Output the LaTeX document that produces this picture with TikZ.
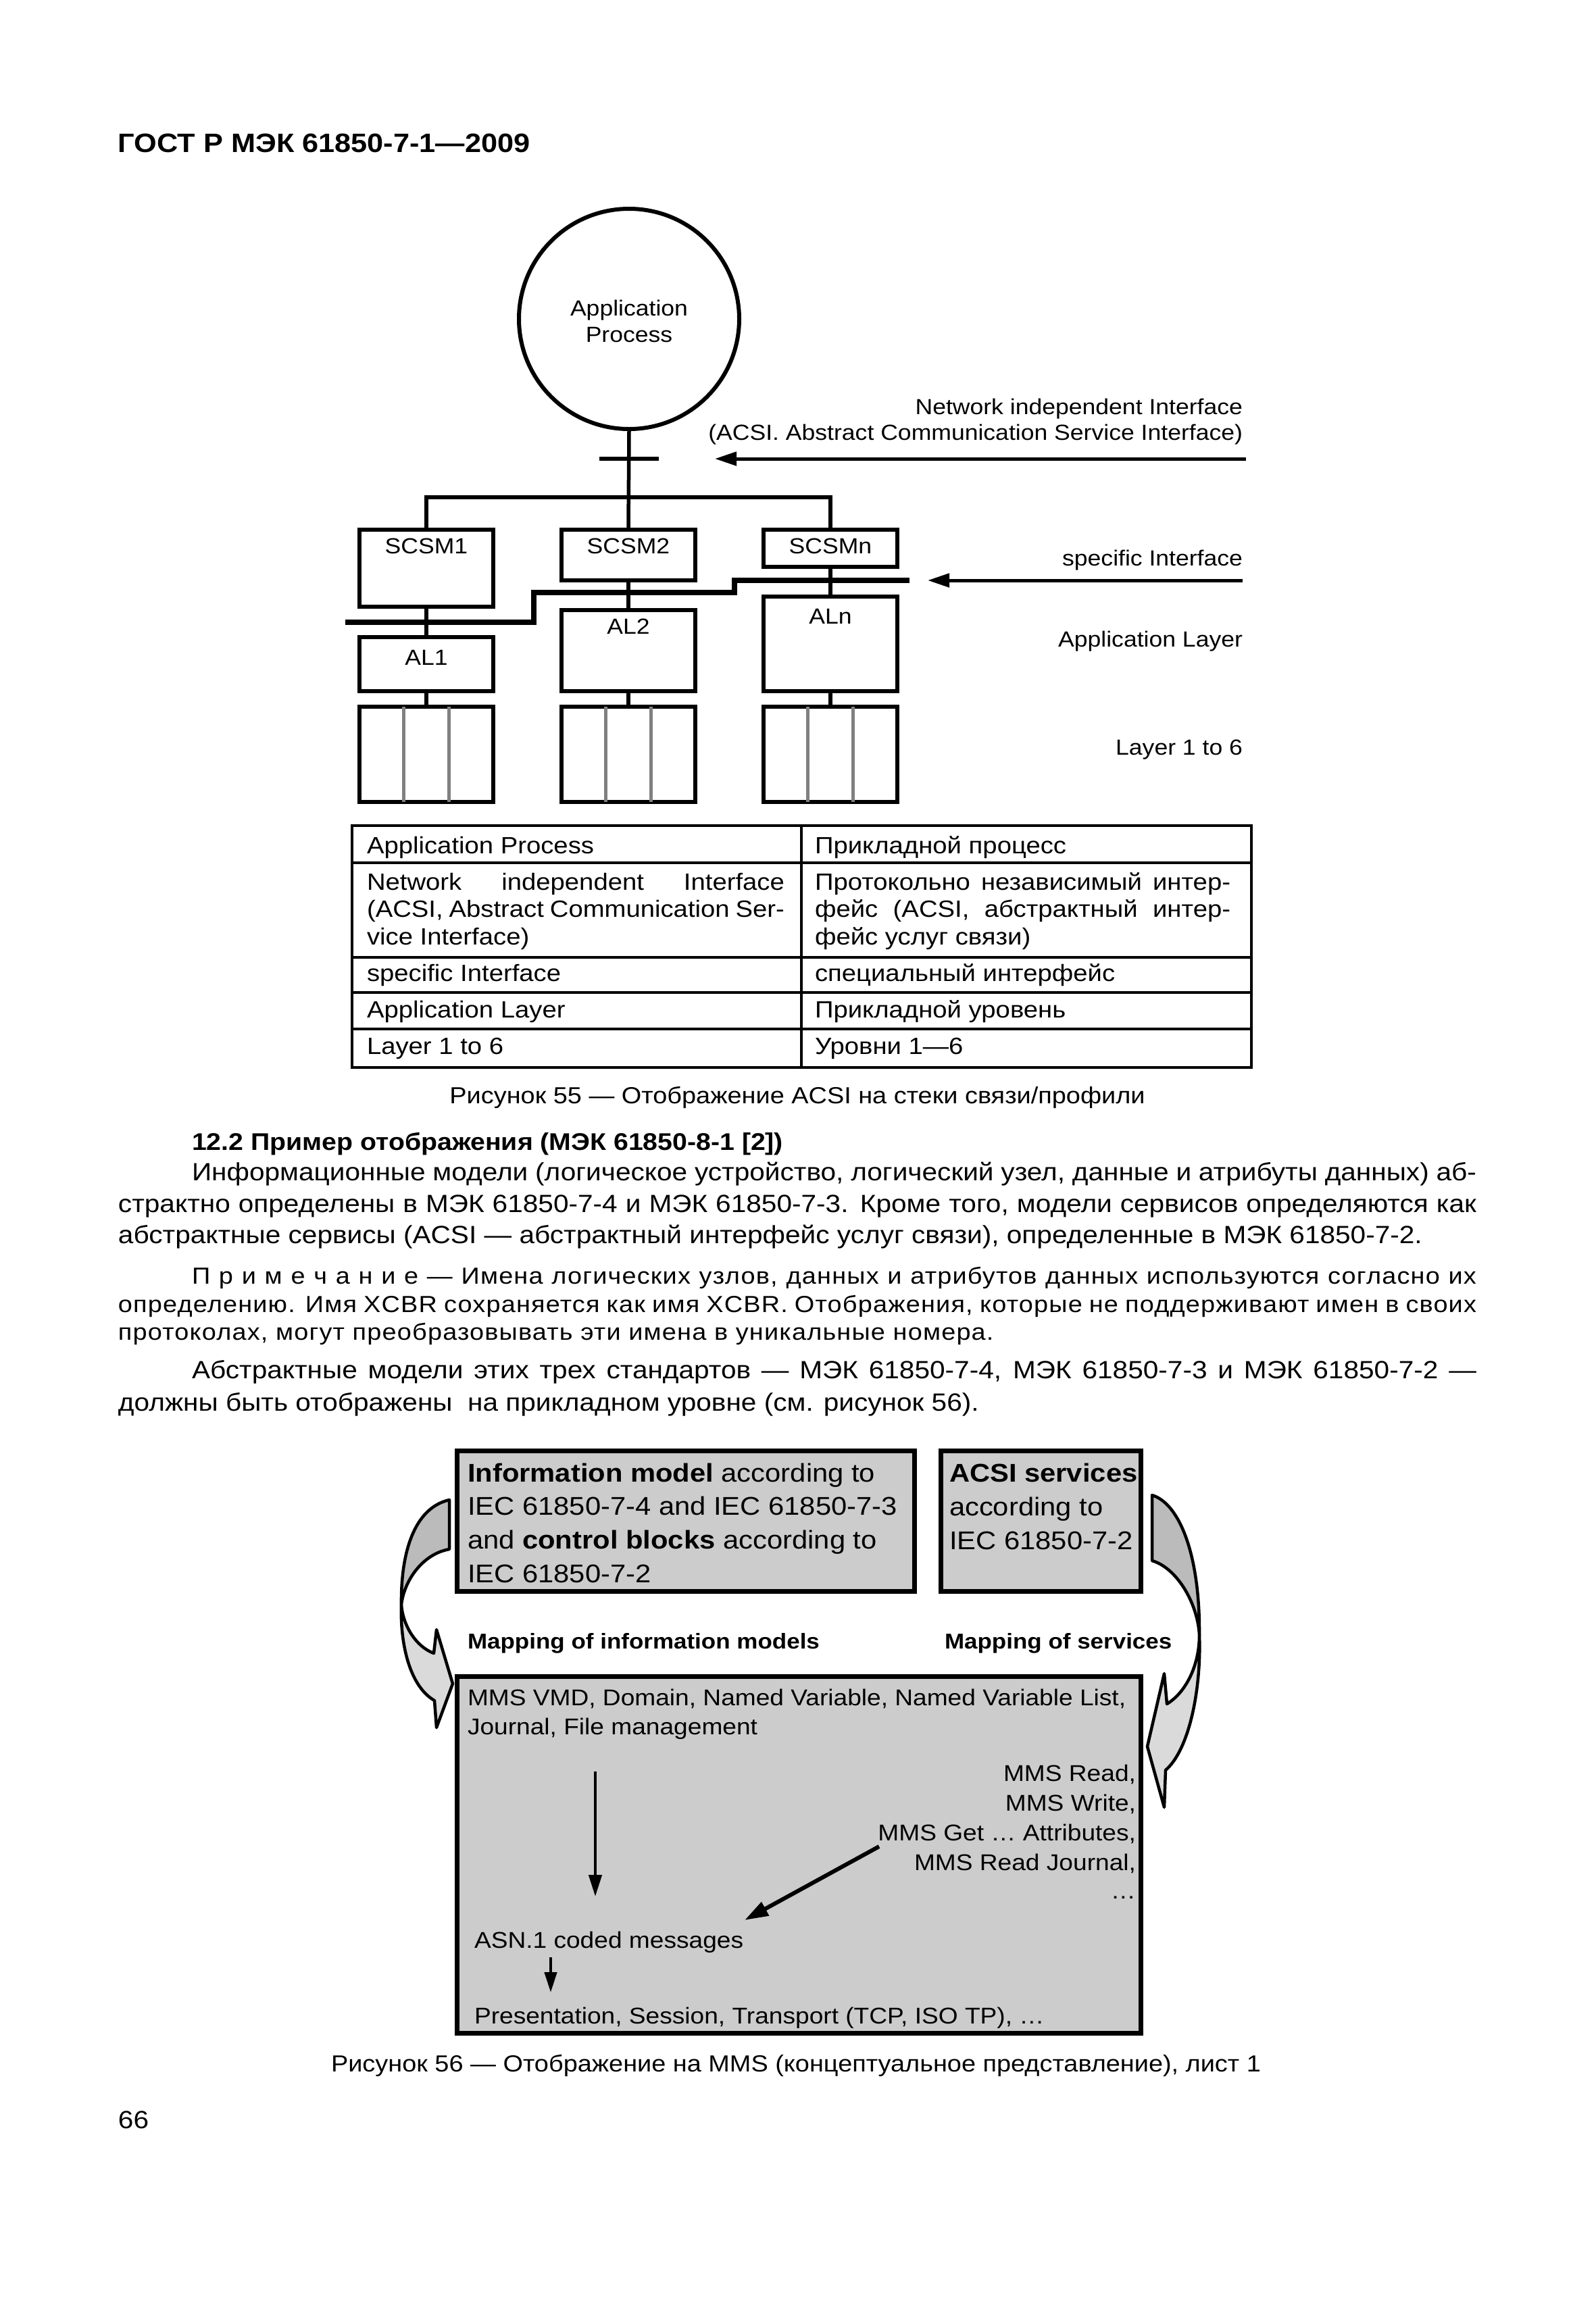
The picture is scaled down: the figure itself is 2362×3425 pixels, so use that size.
\documentclass[tikz,border=0pt]{standalone}
\usepackage{fontspec}
\setmainfont{Liberation Sans}[FakeStretch=1.1]
\usetikzlibrary{arrows.meta,calc}
\newcommand\myfs[1]{\fontsize{#1pt}{#1pt}\selectfont}
\definecolor{boxgray}{HTML}{CCCCCC}
\definecolor{darkband}{HTML}{BBBBBB}
\definecolor{lightband}{HTML}{DADADA}
\definecolor{stackgray}{HTML}{808080}
\begin{document}
\begin{tikzpicture}[x=0.1mm,y=-0.1mm,
  txl/.style={inner sep=0pt,outer sep=0pt,anchor=base west},
  txr/.style={inner sep=0pt,outer sep=0pt,anchor=base east},
  txc/.style={inner sep=0pt,outer sep=0pt,anchor=base},
  f55/.style={font=\myfs{9.2}},
  ftab/.style={font=\myfs{9.9}},
  fbody/.style={font=\myfs{10.5}},
  fnote/.style={font=\myfs{9.8}\addfontfeature{LetterSpace=3.4}},
  fcap/.style={font=\myfs{9.8}},
  fbig/.style={font=\myfs{10.8}},
  fmms/.style={font=\myfs{9.6}},
  fmap/.style={font=\bfseries\myfs{9.05}},
  box/.style={draw,line width=0.65mm,inner sep=0pt,minimum width=19.8mm},
  gbox/.style={draw,fill=boxgray,line width=0.7mm,inner sep=0pt},
  ln/.style={line width=0.55mm},
  arr/.style={line width=0.5mm,-{Triangle[length=3.2mm,width=2mm]}},
  band/.style={line width=0.45mm,line join=round},
]
\useasboundingbox (0,0) rectangle (2362,3425);
\fill[white] (0,0) rectangle (2362,3425);

% ---------- header ----------
\node[txl,font=\bfseries\myfs{11.2}] (hdr) at (175,225) {ГОСТ Р МЭК 61850-7-1—2009};

% ---------- figure 55 ----------
\node[circle,draw,line width=0.6mm,minimum size=32.6mm,inner sep=0pt] (ap) at (931,472) {};
\node[txc,f55] (apt1) at (931,467) {Application};
\node[txc,f55] (apt2) at (931,506) {Process};

\node[box,minimum height=11.4mm] (scsm1) at (631,841) {};
\node[box,minimum height=7.5mm]  (scsm2) at (930,821.5) {};
\node[box,minimum height=5.5mm]  (scsmn) at (1229,811.5) {};
\node[box,minimum height=8.0mm]  (al1) at (631,983) {};
\node[box,minimum height=12.0mm] (al2) at (930,963) {};
\node[box,minimum height=14.0mm] (aln) at (1229,953) {};
\node[box,minimum height=14.1mm] (stk1) at (631,1116.5) {};
\node[box,minimum height=14.1mm] (stk2) at (930,1116.5) {};
\node[box,minimum height=14.1mm] (stk3) at (1229,1116.5) {};

\foreach \n in {stk1,stk2,stk3}{
  \draw[line width=0.5mm,stackgray] ($(\n.north)+(-34,3)$) -- ($(\n.south)+(-34,-3)$);
  \draw[line width=0.5mm,stackgray] ($(\n.north)+(33,3)$) -- ($(\n.south)+(33,-3)$);
}

\node[txc,f55] (t1) at (631,819) {SCSM1};
\node[txc,f55] (t2) at (930,819) {SCSM2};
\node[txc,f55] (t3) at (1229,819) {SCSMn};
\node[txc,f55] (t4) at (631,984) {AL1};
\node[txc,f55] (t5) at (930,938) {AL2};
\node[txc,f55] (t6) at (1229,923) {ALn};

\coordinate (bus) at (930,736);
\draw[ln] (ap.south) -- (scsm2.north);
\draw[ln] (scsm1.north) |- (bus) -| (scsmn.north);
\draw[ln] (scsm1.south) -- (al1.north);
\draw[ln] (scsm2.south) -- (al2.north);
\draw[ln] (scsmn.south) -- (aln.north);
\draw[ln] (al1.south) -- (stk1.north);
\draw[ln] (al2.south) -- (stk2.north);
\draw[ln] (aln.south) -- (stk3.north);

\coordinate (tkL) at (887,679);
\coordinate (tkR) at (975,679);
\draw[line width=0.6mm] (tkL) -- (tkR);

\coordinate (siA) at (511,921);
\coordinate (siB) at (1346,859);
\draw[line width=0.8mm] (siA) -- (790,921) -- (790,877) -- (1087,877) -- (1087,859) -- (siB);

\coordinate (a1s) at (1844,679);
\coordinate (a1t) at (1058,679);
\draw[arr] (a1s) -- (a1t);
\coordinate (a2s) at (1839,859);
\coordinate (a2t) at (1373,859);
\draw[arr] (a2s) -- (a2t);

\node[txr,f55] (lni1) at (1839,613) {Network independent Interface};
\node[txr,f55] (lni2) at (1839,651) {(ACSI. Abstract Communication Service Interface)};
\node[txr,f55] (lsi) at (1839,837) {specific Interface};
\node[txr,f55] (lal) at (1839,957) {Application Layer};
\node[txr,f55] (ll16) at (1839,1117) {Layer 1 to 6};

% ---------- legend table ----------
\draw[line width=0.4mm] (521,1222) rectangle (1852,1580);
\foreach \yy in {1277,1417,1469,1523} \draw[line width=0.4mm] (521,\yy) -- (1852,\yy);
\draw[line width=0.4mm] (1186,1222) -- (1186,1580);

\node[txl,ftab] (tl1) at (543,1263) {Application Process};
\node[txl,ftab] (tl2) at (543,1317) {\makebox[61.8mm][s]{Network independent Interface}};
\node[txl,ftab] (tl3) at (543,1357) {\makebox[61.8mm][s]{(ACSI, Abstract Communication Ser-}};
\node[txl,ftab] (tl4) at (543,1398) {vice Interface)};
\node[txl,ftab] (tl5) at (543,1452) {specific Interface};
\node[txl,ftab] (tl6) at (543,1506) {Application Layer};
\node[txl,ftab] (tl7) at (543,1560) {Layer 1 to 6};
\node[txl,ftab] (tr1) at (1206,1263) {Прикладной процесс};
\node[txl,ftab] (tr2) at (1206,1317) {\makebox[61.5mm][s]{Протокольно независимый интер-}};
\node[txl,ftab] (tr3) at (1206,1357) {\makebox[61.5mm][s]{фейс (ACSI, абстрактный интер-}};
\node[txl,ftab] (tr4) at (1206,1398) {фейс услуг связи)};
\node[txl,ftab] (tr5) at (1206,1452) {специальный интерфейс};
\node[txl,ftab] (tr6) at (1206,1506) {Прикладной уровень};
\node[txl,ftab] (tr7) at (1206,1560) {Уровни 1—6};

\node[txc,fcap] (cap55) at (1180,1633) {Рисунок 55 — Отображение ACSI на стеки связи/профили};

% ---------- body text ----------
\node[txl,font=\bfseries\myfs{10.15}] (h122) at (284,1702) {12.2 Пример отображения (МЭК 61850-8-1 [2])};
\node[txl,fbody] (b1) at (284,1747) {\makebox[190.1mm][s]{Информационные модели (логическое устройство, логический узел, данные и атрибуты данных) аб-}};
\node[txl,fbody] (b2) at (175,1794) {\makebox[201mm][s]{страктно определены в МЭК 61850-7-4 и МЭК 61850-7-3. Кроме того, модели сервисов определяются как}};
\node[txl,fbody] (b3) at (175,1840) {абстрактные сервисы (ACSI — абстрактный интерфейс услуг связи), определенные в МЭК 61850-7-2.};

\node[txl,fnote] (n1) at (284,1900) {\makebox[190.1mm][s]{П р и м е ч а н и е — Имена логических узлов, данных и атрибутов данных используются согласно их}};
\node[txl,fnote] (n2) at (175,1942) {\makebox[201mm][s]{определению. Имя XCBR сохраняется как имя XCBR. Отображения, которые не поддерживают имен в своих}};
\node[txl,fnote] (n3) at (175,1983) {протоколах, могут преобразовывать эти имена в уникальные номера.};

\node[txl,fbody] (a1) at (284,2040) {\makebox[190.1mm][s]{Абстрактные модели этих трех стандартов — МЭК 61850-7-4, МЭК 61850-7-3 и МЭК 61850-7-2 —}};
\node[txl,fbody] (a2) at (175,2088) {должны быть отображены\ \ на прикладном уровне (см. рисунок 56).};

% ---------- figure 56 ----------
\filldraw[band,fill=darkband] (665,2220) .. controls (612,2232) and (593,2300) .. (594,2375)
   .. controls (598,2340) and (625,2300) .. (665,2293) -- cycle;
\filldraw[band,fill=lightband] (594,2375) .. controls (596,2405) and (615,2437) .. (642,2447)
   -- (646,2412) -- (670,2492) -- (646,2557) -- (643,2517)
   .. controls (605,2495) and (592,2430) .. (594,2375) -- cycle;
\filldraw[band,fill=darkband] (1705,2213) .. controls (1745,2225) and (1776,2300) .. (1775,2420)
   .. controls (1772,2370) and (1740,2320) .. (1705,2310) -- cycle;
\filldraw[band,fill=lightband] (1775,2420) .. controls (1775,2465) and (1755,2505) .. (1727,2522)
   -- (1723,2477) -- (1698,2585) -- (1723,2675) -- (1725,2620)
   .. controls (1760,2590) and (1778,2500) .. (1775,2420) -- cycle;

\node[gbox,minimum width=67.7mm,minimum height=20.8mm] (im) at (1015,2251.5) {};
\node[gbox,minimum width=29.6mm,minimum height=20.8mm] (acsi) at (1540.5,2251.5) {};
\node[gbox,minimum width=101.2mm,minimum height=52.8mm] (mms) at (1182.5,2745.5) {};

\node[txl,fbig] (im1) at (692,2193) {\textbf{Information model} according to};
\node[txl,fbig] (im2) at (692,2242) {IEC 61850-7-4 and IEC 61850-7-3};
\node[txl,fbig] (im3) at (692,2292) {and \textbf{control blocks} according to};
\node[txl,fbig] (im4) at (692,2342) {IEC 61850-7-2};
\node[txl,fbig] (ac1) at (1405,2193) {\textbf{ACSI services}};
\node[txl,fbig] (ac2) at (1405,2243) {according to};
\node[txl,fbig] (ac3) at (1405,2293) {IEC 61850-7-2};

\node[txl,fmap] (map1) at (692,2440) {Mapping of information models};
\node[txl,fmap] (map2) at (1398,2440) {Mapping of services};

\node[txl,fmms] (m1) at (692,2524) {MMS VMD, Domain, Named Variable, Named Variable List,};
\node[txl,fmms] (m2) at (692,2567) {Journal, File management};
\node[txr,fmms] (r1) at (1681,2636) {MMS Read,};
\node[txr,fmms] (r2) at (1681,2680) {MMS Write,};
\node[txr,fmms] (r3) at (1681,2724) {MMS Get … Attributes,};
\node[txr,fmms] (r4) at (1681,2768) {MMS Read Journal,};
\node[txr,fmms] (r5) at (1681,2810) {…};
\node[txl,fmms] (asn) at (702,2883) {ASN.1 coded messages};
\node[txl,fmms] (pst) at (702,2995) {Presentation, Session, Transport (TCP, ISO TP), …};

\coordinate (va1) at (881,2622);
\coordinate (va2) at (881,2807);
\draw[line width=0.45mm,-{Triangle[length=3.2mm,width=1.9mm]}] (va1) -- (va2);
\coordinate (da1) at (1301,2733);
\coordinate (da2) at (1102,2842);
\draw[line width=0.6mm,-{Triangle[length=3.5mm,width=2.2mm]}] (da1) -- (da2);
\coordinate (sa1) at (815,2897);
\coordinate (sa2) at (815,2949);
\draw[line width=0.45mm,-{Triangle[length=3.0mm,width=1.8mm]}] (sa1) -- (sa2);

\node[txc,fcap] (cap56) at (1178,3066) {Рисунок 56 — Отображение на MMS (концептуальное представление), лист 1};
\node[txl,fbody] (pnum) at (175,3150) {66};
\end{tikzpicture}
\end{document}
